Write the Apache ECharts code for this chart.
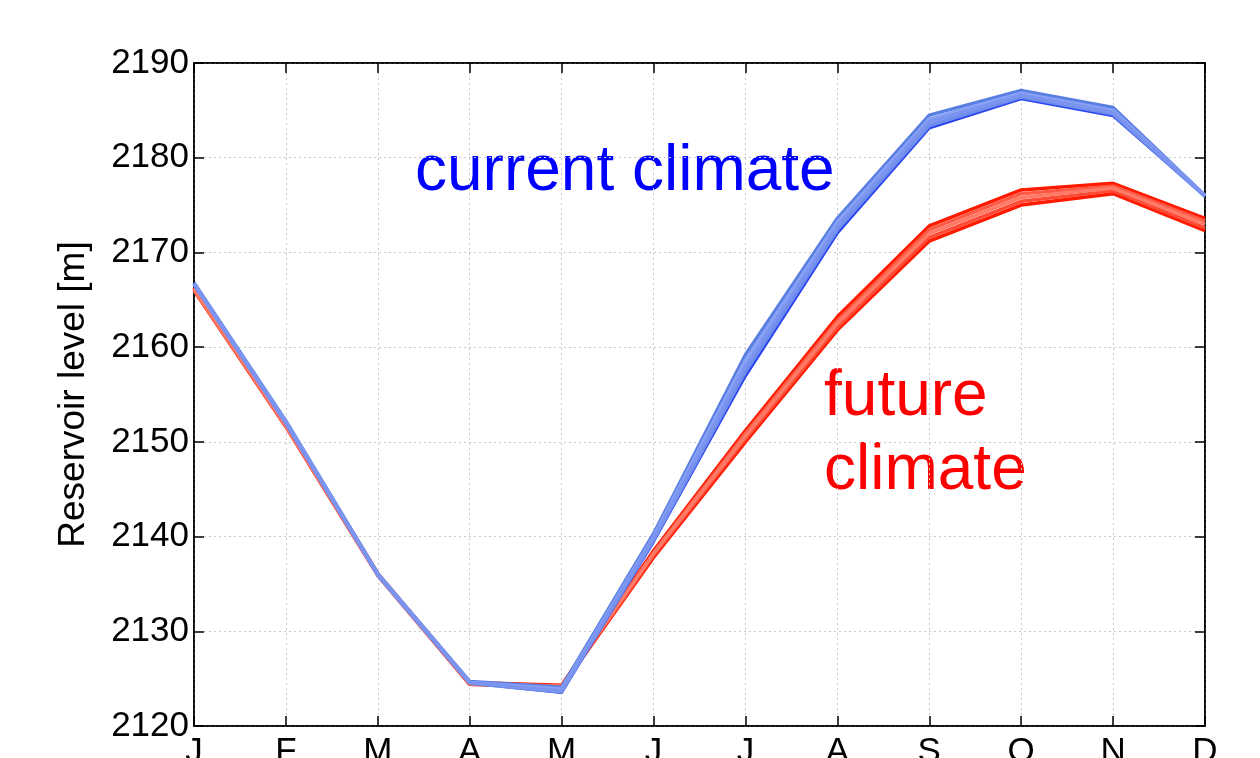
<!DOCTYPE html>
<html><head><meta charset="utf-8">
<script src="https://cdn.jsdelivr.net/npm/echarts@6/dist/echarts.min.js"></script>
<style>html,body{margin:0;padding:0;background:#fff}#c{width:1260px;height:758px}</style>
</head><body><div id="c"></div>
<script>
var months = ['J','F','M','A','M','J','J','A','S','O','N','D'];
var yTicks = [2120, 2190, 10];
var current1 = [2166.8, 2152.2, 2136.1, 2124.7, 2124.1, 2140.3, 2159.2, 2173.6, 2184.5, 2187.1, 2185.3, 2176.0];
var current2 = [2166.7, 2152.1, 2136.0, 2124.6, 2123.9, 2140.0, 2158.6, 2173.2, 2184.1, 2186.8, 2185.0, 2176.0];
var current3 = [2166.7, 2152.0, 2136.0, 2124.6, 2123.7, 2139.8, 2158.0, 2172.8, 2183.8, 2186.6, 2184.8, 2176.0];
var current4 = [2166.6, 2152.0, 2135.9, 2124.5, 2123.6, 2139.6, 2157.4, 2172.4, 2183.4, 2186.4, 2184.6, 2175.9];
var current5 = [2166.6, 2151.9, 2135.9, 2124.5, 2123.5, 2139.4, 2156.9, 2172.0, 2183.1, 2186.2, 2184.4, 2175.9];
var future1 = [2166.3, 2151.9, 2136.1, 2124.6, 2124.3, 2138.5, 2151.2, 2163.2, 2172.8, 2176.6, 2177.3, 2173.6];
var future2 = [2166.2, 2151.8, 2136.0, 2124.5, 2124.2, 2138.3, 2150.9, 2162.8, 2172.4, 2176.2, 2177.0, 2173.3];
var future3 = [2166.1, 2151.7, 2136.0, 2124.5, 2124.2, 2138.2, 2150.6, 2162.5, 2172.0, 2175.8, 2176.8, 2173.0];
var future4 = [2166.0, 2151.6, 2135.9, 2124.4, 2124.1, 2138.0, 2150.3, 2162.1, 2171.6, 2175.4, 2176.5, 2172.6];
var future5 = [2166.0, 2151.6, 2135.9, 2124.4, 2124.1, 2137.8, 2150.0, 2161.8, 2171.2, 2175.0, 2176.2, 2172.3];

var futureMembers = [future1, future5, future2, future4, future3];
var futureColors = ['#ff1a00', '#ff1a00', '#ff5a45', '#ff4a35', '#ff7a66'];
var currentMembers = [current5, current1, current4, current2, current3];
var currentColors = ['#2a44f0', '#5a7fe2', '#6d8cec', '#8aa2f6', '#7a94f0'];
var currentWidths = [2.5, 3.5, 3.5, 3.5, 3.5];

var FONT = '"Liberation Sans", Arial, sans-serif';
var series = [];
futureMembers.forEach(function (d, i) {
  series.push({type: 'line', data: d, symbol: 'none', lineStyle: {color: futureColors[i], width: 3.5}, silent: true, animation: false});
});
currentMembers.forEach(function (d, i) {
  series.push({type: 'line', data: d, symbol: 'none', lineStyle: {color: currentColors[i], width: currentWidths[i]}, silent: true, animation: false});
});

var chart = echarts.init(document.getElementById('c'));
chart.setOption({
  animation: false,
  backgroundColor: '#fff',
  grid: {left: 194, right: 55, top: 63, bottom: 32, containLabel: false, outerBoundsMode: 'none',
         show: true, borderColor: '#000', borderWidth: 1.5, backgroundColor: 'transparent'},
  xAxis: [{
    type: 'category', data: months, boundaryGap: false, position: 'bottom',
    axisLine: {lineStyle: {color: '#000', width: 1.5}},
    axisTick: {inside: true, length: 10, lineStyle: {color: '#000', width: 1.5}, alignWithLabel: true},
    axisLabel: {color: '#000', fontSize: 35, fontFamily: FONT, margin: 9, interval: 0},
    splitLine: {show: true, lineStyle: {color: '#c8c8c8', type: [2, 3], width: 1}}
  }, {
    type: 'category', data: months, boundaryGap: false, position: 'top',
    axisLine: {lineStyle: {color: '#000', width: 1.5}},
    axisTick: {inside: true, length: 10, lineStyle: {color: '#000', width: 1.5}},
    axisLabel: {show: false}, splitLine: {show: false}
  }],
  yAxis: [{
    type: 'value', min: yTicks[0], max: yTicks[1], interval: yTicks[2],
    name: 'Reservoir level [m]', nameLocation: 'middle', nameRotate: 90, nameGap: 102,
    nameTextStyle: {color: '#000', fontSize: 37, fontFamily: FONT},
    axisLine: {show: true, lineStyle: {color: '#000', width: 1.5}},
    axisTick: {show: true, inside: true, length: 10, lineStyle: {color: '#000', width: 1.5}},
    axisLabel: {color: '#000', fontSize: 35, fontFamily: FONT, margin: 5, formatter: function (v) { return String(v); }},
    splitLine: {show: true, lineStyle: {color: '#c8c8c8', type: [2, 3], width: 1}}
  }, {
    type: 'value', min: yTicks[0], max: yTicks[1], interval: yTicks[2], position: 'right',
    axisLine: {show: true, lineStyle: {color: '#000', width: 1.5}},
    axisTick: {show: true, inside: true, length: 10, lineStyle: {color: '#000', width: 1.5}},
    axisLabel: {show: false}, splitLine: {show: false}
  }],
  graphic: [
    {type: 'text', left: 415, top: 140, style: {text: 'current climate', fill: '#0000ff', font: '64px ' + FONT}},
    {type: 'text', left: 824, top: 360, style: {text: 'future\nclimate', fill: '#ff0000', font: '64px ' + FONT, lineHeight: 74}}
  ],
  series: series
});
</script>
</body></html>
